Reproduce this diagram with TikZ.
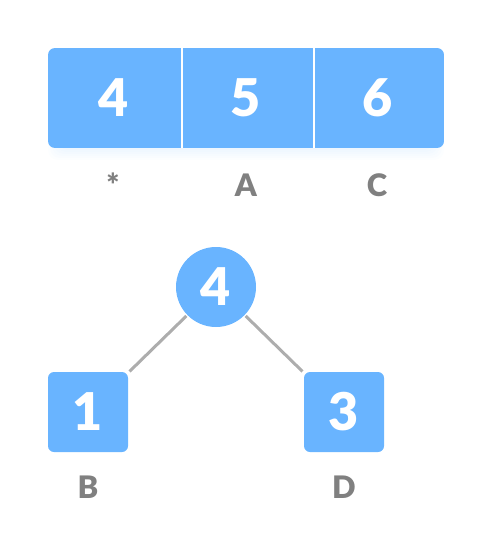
\documentclass[tikz,border=0pt]{standalone}
\usepackage{fontspec}
\setmainfont{Lato}
\newfontfamily\heavy{Lato Black}
\usetikzlibrary{positioning}
\definecolor{cellblue}{HTML}{69B4FF}
\definecolor{labelgray}{HTML}{808080}
\definecolor{edgegray}{HTML}{ADADAD}

\begin{document}
\begin{tikzpicture}[x=1pt,y=-1pt,line width=3pt]
    \tikzstyle{every node}=[inner sep=0pt]
    \tikzstyle{cell}=[fill=cellblue,text=white,minimum width=132pt,minimum height=100pt,font=\fontsize{52}{52}\selectfont\heavy]
    \tikzstyle{vertex}=[fill=cellblue,text=white,minimum size=80pt,font=\fontsize{52}{52}\selectfont\heavy]
    \tikzstyle{lbl}=[anchor=base,text=labelgray,font=\fontsize{31}{31}\selectfont\heavy]
    \useasboundingbox (0,0) rectangle (492,548);

    % shadow under the array
    \foreach \s in {1,...,6}
        \fill[cellblue,opacity=0.02,rounded corners=10pt] (60-2*\s,136) rectangle (432+2*\s,148+2*\s);

    % the array
    \begin{scope}
        \clip[rounded corners=7pt] (48,48) rectangle (444,148);
        \node[cell] (c1) at (114,98) {4};
        \node[cell] (c2) at (246,98) {5};
        \node[cell] (c3) at (378,98) {6};
        \draw[white,line width=2pt] (c1.north east) -- (c1.south east);
        \draw[white,line width=2pt] (c2.north east) -- (c2.south east);
    \end{scope}
    \node[lbl] (l1) at (113,196) {*};
    \node[lbl] (l2) at (246,196) {A};
    \node[lbl] (l3) at (377,196) {C};

    % the tree
    \node[vertex,circle] (root) at (216,287) {4};
    \node[vertex,rounded corners=6pt] (left) at (88,412) {1};
    \node[vertex,rounded corners=6pt] (right) at (344,412) {3};
    \node[lbl] (lb) at (88,498) {B};
    \node[lbl] (ld) at (344,498) {D};

    \draw[edgegray] (root) -- (left);
    \draw[edgegray] (root) -- (right);
\end{tikzpicture}
\end{document}
